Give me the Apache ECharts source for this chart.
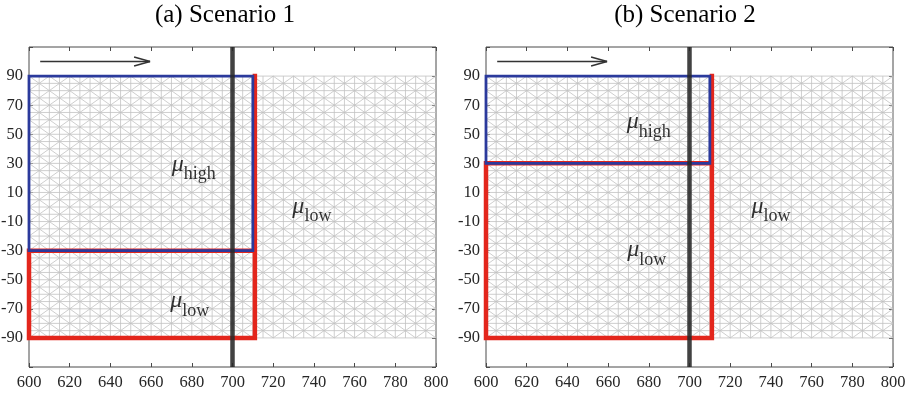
<!DOCTYPE html>
<html>
<head>
<meta charset="utf-8">
<script src="https://cdn.jsdelivr.net/npm/echarts@6/dist/echarts.min.js"></script>
<style>html,body{margin:0;padding:0;background:#fff;}#c{width:913px;height:395px;}</style>
</head>
<body>
<div id="c"></div>
<script>
// ---- data ----
const panelTitles = ['(a) Scenario 1', '(b) Scenario 2'];
const xTicks = [600, 620, 640, 660, 680, 700, 720, 740, 760, 780, 800];
const yTickLabels = [-90, -70, -50, -30, -10, 10, 30, 50, 70, 90];
const meshX = [600,605,610,615,620,625,630,635,640,645,650,655,660,665,670,675,680,685,690,695,700,705,710,715,720,725,730,735,740,745,750,755,760,765,770,775,780,785,790,795,800];
const meshY = [-90,-85,-80,-75,-70,-65,-60,-55,-50,-45,-40,-35,-30,-25,-20,-15,-10,-5,0,5,10,15,20,25,30,35,40,45,50,55,60,65,70,75,80,85,90];
const interfaceX = [700];
const arrowSegment = [605.5, 100, 659.5, 100];
// scenario 1
const blueRect1 = [[600,-30],[600,90],[710,90],[710,-30],[600,-30]];
const redPath1  = [[711,90],[711,-90],[600,-90],[600,-30],[711,-30]];
const labels1 = [
  {x: 681, y: 27, sub: 'high'},
  {x: 679, y: -67, sub: 'low'},
  {x: 739, y: -2, sub: 'low'}
];
// scenario 2
const blueRect2 = [[600,30],[600,90],[710,90],[710,30],[600,30]];
const redPath2  = [[711,90],[711,-90],[600,-90],[600,30],[711,30]];
const labels2 = [
  {x: 680, y: 56, sub: 'high'},
  {x: 679, y: -32, sub: 'low'},
  {x: 740, y: -2, sub: 'low'}
];

// ---- build mesh segments from nodes ----
function meshSegments() {
  const segs = [];
  const x0 = meshX[0], x1 = meshX[meshX.length-1];
  const y0 = meshY[0], y1 = meshY[meshY.length-1];
  meshY.forEach(y => segs.push([x0, y, x1, y]));
  meshX.forEach(x => segs.push([x, y0, x, y1]));
  for (let i = 0; i < meshX.length - 1; i++) {
    for (let j = 0; j < meshY.length - 1; j++) {
      if ((i + j) % 2 === 0) segs.push([meshX[i], meshY[j], meshX[i+1], meshY[j+1]]);
      else segs.push([meshX[i+1], meshY[j], meshX[i], meshY[j+1]]);
    }
  }
  return segs;
}
const segs = meshSegments();

const SERIF = '"Liberation Serif", "DejaVu Serif", serif';
const AX = '#4a4a4a';
const grids = [
  {left: 29, width: 407, top: 47, height: 320},
  {left: 486, width: 407, top: 47, height: 320}
];
const titleCenters = [225, 685];

const chart = echarts.init(document.getElementById('c'), null, {renderer: 'canvas'});

const xAxes = [], yAxes = [], series = [], titles = [];
grids.forEach((g, k) => {
  titles.push({
    text: panelTitles[k], left: titleCenters[k], top: 3, textAlign: 'center', padding: 0,
    textStyle: {fontFamily: SERIF, fontSize: 25, fontWeight: 'normal', color: '#000'}
  });
  const baseX = {
    type: 'value', gridIndex: k, min: 600, max: 800, interval: 20,
    axisLine: {show: false, onZero: false}, splitLine: {show: false},
    axisTick: {show: true, inside: true, length: 4, lineStyle: {color: AX, width: 1}}
  };
  xAxes.push(Object.assign({}, baseX, {
    position: 'bottom',
    axisLabel: {show: true, margin: 7, fontFamily: SERIF, fontSize: 16.5, color: '#262626',
      formatter: v => (xTicks.indexOf(v) >= 0 ? String(v) : '')}
  }));
  xAxes.push(Object.assign({}, baseX, {position: 'top', axisLabel: {show: false}}));
  const baseY = {
    type: 'value', gridIndex: k, min: -110, max: 110, interval: 20,
    axisLine: {show: false, onZero: false}, splitLine: {show: false},
    axisTick: {show: true, inside: true, length: 4, lineStyle: {color: AX, width: 1}}
  };
  yAxes.push(Object.assign({}, baseY, {
    position: 'left',
    axisLabel: {show: true, margin: 6, fontFamily: SERIF, fontSize: 16.5, color: '#262626',
      formatter: v => (yTickLabels.indexOf(v) >= 0 ? String(v) : '')}
  }));
  yAxes.push(Object.assign({}, baseY, {position: 'right', axisLabel: {show: false}}));

  const xi = k * 2, yi = k * 2;
  // mesh
  series.push({
    type: 'custom', xAxisIndex: xi, yAxisIndex: yi, silent: true, z: 1,
    data: segs, encode: {x: [0, 2], y: [1, 3]},
    renderItem: (params, api) => {
      const p1 = api.coord([api.value(0), api.value(1)]);
      const p2 = api.coord([api.value(2), api.value(3)]);
      return {type: 'line', shape: {x1: p1[0], y1: p1[1], x2: p2[0], y2: p2[1]},
        style: {stroke: '#c2c2c2', lineWidth: 0.8}};
    }
  });
  const red = k === 0 ? redPath1 : redPath2;
  const blue = k === 0 ? blueRect1 : blueRect2;
  series.push({
    type: 'line', xAxisIndex: xi, yAxisIndex: yi, data: red, symbol: 'none', silent: true, z: 3,
    lineStyle: {color: '#e3261c', width: 4.5, join: 'miter', cap: 'square'}
  });
  series.push({
    type: 'line', xAxisIndex: xi, yAxisIndex: yi, data: blue, symbol: 'none', silent: true, z: 4,
    lineStyle: {color: '#2b3a9c', width: 2.8, join: 'miter', cap: 'square'}
  });
  // interface line
  series.push({
    type: 'line', xAxisIndex: xi, yAxisIndex: yi, symbol: 'none', silent: true, z: 5,
    data: [[interfaceX[0], -110], [interfaceX[0], 110]],
    lineStyle: {color: 'rgba(40,40,40,0.88)', width: 4.5}
  });
  // arrow
  series.push({
    type: 'custom', xAxisIndex: xi, yAxisIndex: yi, silent: true, z: 6,
    data: [arrowSegment], encode: {x: [0, 2], y: [1, 3]},
    renderItem: (params, api) => {
      const p1 = api.coord([api.value(0), api.value(1)]);
      const p2 = api.coord([api.value(2), api.value(3)]);
      const st = {stroke: '#333', lineWidth: 1.5};
      return {type: 'group', children: [
        {type: 'line', shape: {x1: p1[0], y1: p1[1], x2: p2[0], y2: p2[1]}, style: st},
        {type: 'line', shape: {x1: p2[0] - 16, y1: p2[1] - 4.5, x2: p2[0], y2: p2[1]}, style: st},
        {type: 'line', shape: {x1: p2[0] - 16, y1: p2[1] + 4.5, x2: p2[0], y2: p2[1]}, style: st}
      ]};
    }
  });
  // labels
  const labs = k === 0 ? labels1 : labels2;
  series.push({
    type: 'scatter', xAxisIndex: xi, yAxisIndex: yi, silent: true, z: 7,
    symbolSize: 1, itemStyle: {color: 'rgba(0,0,0,0)'},
    data: labs.map(l => ({value: [l.x, l.y], sub: l.sub})),
    label: {
      show: true, position: 'inside',
      formatter: p => '{mu|μ}{sub|' + p.data.sub + '}',
      rich: {
        mu: {fontFamily: SERIF, fontStyle: 'italic', fontSize: 24, color: '#000', verticalAlign: 'bottom', padding: [0, 0, 7, 0]},
        sub: {fontFamily: SERIF, fontSize: 18, color: '#000', verticalAlign: 'bottom'}
      }
    }
  });
});

chart.setOption({
  animation: false,
  backgroundColor: '#fff',
  title: titles,
  grid: grids.map(g => Object.assign({show: true, borderColor: AX, borderWidth: 1, backgroundColor: 'transparent', containLabel: false, outerBoundsMode: 'none'}, g)),
  xAxis: xAxes,
  yAxis: yAxes,
  series: series
});
</script>
</body>
</html>
